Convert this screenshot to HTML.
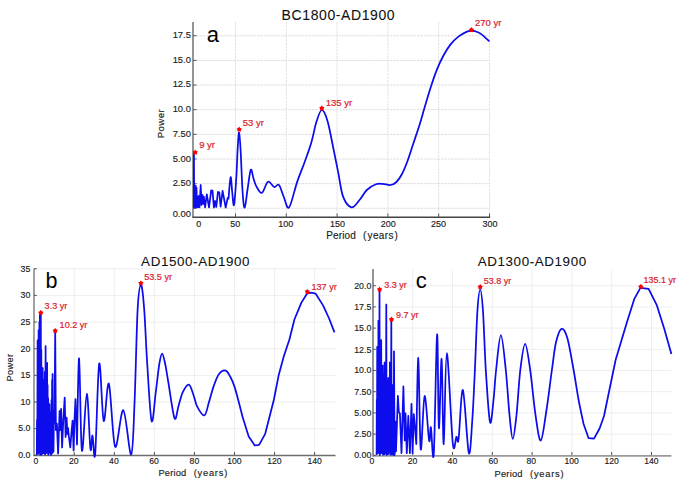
<!DOCTYPE html>
<html><head><meta charset="utf-8"><style>
html,body{margin:0;padding:0;background:#fff;width:685px;height:484px;overflow:hidden}
svg{display:block}
text{font-family:"Liberation Sans",sans-serif}
.t{fill:#1c1c1c;stroke:#1c1c1c;stroke-width:0.15px;letter-spacing:0.4px}
.k{fill:#1c1c1c;stroke:#1c1c1c;stroke-width:0.15px}
.r{fill:#d8202e;stroke:#d8202e;stroke-width:0.2px}
.ti{fill:#111;stroke:#111;stroke-width:0.08px;letter-spacing:0.6px}
.big{fill:#000}
</style></head><body>
<svg width="685" height="484" viewBox="0 0 685 484">
<rect width="685" height="484" fill="#fff"/>
<g id="pa">
<line x1="196" y1="208.3" x2="489.5" y2="208.3" stroke="#dedede" stroke-width="1" stroke-dasharray="2.6,0.8"/>
<line x1="196" y1="183.65" x2="489.5" y2="183.65" stroke="#dedede" stroke-width="1" stroke-dasharray="2.6,0.8"/>
<line x1="196" y1="159" x2="489.5" y2="159" stroke="#dedede" stroke-width="1" stroke-dasharray="2.6,0.8"/>
<line x1="196" y1="134.35" x2="489.5" y2="134.35" stroke="#dedede" stroke-width="1" stroke-dasharray="2.6,0.8"/>
<line x1="196" y1="109.7" x2="489.5" y2="109.7" stroke="#dedede" stroke-width="1" stroke-dasharray="2.6,0.8"/>
<line x1="196" y1="85.05" x2="489.5" y2="85.05" stroke="#dedede" stroke-width="1" stroke-dasharray="2.6,0.8"/>
<line x1="196" y1="60.4" x2="489.5" y2="60.4" stroke="#dedede" stroke-width="1" stroke-dasharray="2.6,0.8"/>
<line x1="196" y1="35.75" x2="489.5" y2="35.75" stroke="#dedede" stroke-width="1" stroke-dasharray="2.6,0.8"/>
<line x1="235.5" y1="22" x2="235.5" y2="216" stroke="#e2e2e2" stroke-width="1" stroke-dasharray="2.6,0.8"/>
<line x1="286.3" y1="22" x2="286.3" y2="216" stroke="#e2e2e2" stroke-width="1" stroke-dasharray="2.6,0.8"/>
<line x1="337.1" y1="22" x2="337.1" y2="216" stroke="#e2e2e2" stroke-width="1" stroke-dasharray="2.6,0.8"/>
<line x1="387.9" y1="22" x2="387.9" y2="216" stroke="#e2e2e2" stroke-width="1" stroke-dasharray="2.6,0.8"/>
<line x1="438.7" y1="22" x2="438.7" y2="216" stroke="#e2e2e2" stroke-width="1" stroke-dasharray="2.6,0.8"/>
<line x1="489.5" y1="22" x2="489.5" y2="216" stroke="#e2e2e2" stroke-width="1" stroke-dasharray="2.6,0.8"/>
<line x1="193" y1="22" x2="193" y2="217.5" stroke="#8a8a8a" stroke-width="1.8"/>
<line x1="192.5" y1="217.3" x2="490.2" y2="217.3" stroke="#444" stroke-width="1.5"/>
<line x1="193" y1="208.3" x2="196.5" y2="208.3" stroke="#555" stroke-width="1"/>
<line x1="193" y1="183.65" x2="196.5" y2="183.65" stroke="#555" stroke-width="1"/>
<line x1="193" y1="159" x2="196.5" y2="159" stroke="#555" stroke-width="1"/>
<line x1="193" y1="134.35" x2="196.5" y2="134.35" stroke="#555" stroke-width="1"/>
<line x1="193" y1="109.7" x2="196.5" y2="109.7" stroke="#555" stroke-width="1"/>
<line x1="193" y1="85.05" x2="196.5" y2="85.05" stroke="#555" stroke-width="1"/>
<line x1="193" y1="60.4" x2="196.5" y2="60.4" stroke="#555" stroke-width="1"/>
<line x1="193" y1="35.75" x2="196.5" y2="35.75" stroke="#555" stroke-width="1"/>
<line x1="235.5" y1="217" x2="235.5" y2="213.5" stroke="#555" stroke-width="1"/>
<line x1="286.3" y1="217" x2="286.3" y2="213.5" stroke="#555" stroke-width="1"/>
<line x1="337.1" y1="217" x2="337.1" y2="213.5" stroke="#555" stroke-width="1"/>
<line x1="387.9" y1="217" x2="387.9" y2="213.5" stroke="#555" stroke-width="1"/>
<line x1="438.7" y1="217" x2="438.7" y2="213.5" stroke="#555" stroke-width="1"/>
<line x1="489.5" y1="217" x2="489.5" y2="213.5" stroke="#555" stroke-width="1"/>
<text x="190.9" y="38.4" text-anchor="end" font-size="9.4" class="k">17.5</text>
<text x="190.9" y="62.9" text-anchor="end" font-size="9.4" class="k">15.0</text>
<text x="190.9" y="87.4" text-anchor="end" font-size="9.4" class="k">12.5</text>
<text x="190.9" y="112.4" text-anchor="end" font-size="9.4" class="k">10.0</text>
<text x="190.9" y="136.7" text-anchor="end" font-size="9.4" class="k">7.50</text>
<text x="190.9" y="161.5" text-anchor="end" font-size="9.4" class="k">5.00</text>
<text x="190.9" y="186.4" text-anchor="end" font-size="9.4" class="k">2.50</text>
<text x="190.9" y="217.1" text-anchor="end" font-size="9.4" class="k">0.00</text>
<text x="198.7" y="226.8" text-anchor="middle" font-size="9.0" class="k">0</text>
<text x="235.3" y="226.8" text-anchor="middle" font-size="9.0" class="k">50</text>
<text x="285.8" y="226.8" text-anchor="middle" font-size="9.0" class="k">100</text>
<text x="337.4" y="226.8" text-anchor="middle" font-size="9.0" class="k">150</text>
<text x="388.3" y="226.8" text-anchor="middle" font-size="9.0" class="k">200</text>
<text x="438.4" y="226.8" text-anchor="middle" font-size="9.0" class="k">250</text>
<text x="490.1" y="226.8" text-anchor="middle" font-size="9.0" class="k">300</text>
<text x="163.6" y="123.6" transform="rotate(-90 163.6 123.6)" text-anchor="middle" font-size="9.7" class="t">Power</text>
<text x="326.2" y="239.4" font-size="10" class="t" style="letter-spacing:0.15px">Period</text>
<text x="363.0" y="239.4" font-size="10" class="t">(</text>
<text x="367.5" y="239.4" font-size="10" class="t">years</text>
<text x="394.5" y="239.4" font-size="10" class="t">)</text>
<text x="281.6" y="19.8" font-size="14" class="ti">BC1800-AD1900</text>
<text x="206.7" y="41.6" font-size="22" class="big">a</text>
<path d="M193.9,207.5 L193.9,153.5 L194.3,207.5 L194.6,186 L195,207.3 L195.6,185.6 L196.1,207.3 L196.5,187.5 L197,207.3 L197.6,196.7 L198.1,207.3 L198.8,196 L199.5,207.3 L200.7,185 L201.5,205 L202.4,194.9 L203.2,204 L203.8,196.7 L205.1,207.3 L206.8,194.3 L209,207.3 L211.2,190.4 L212.5,190.6 L213.9,207.5 L215.1,201 L216.3,207 L217.9,192 L219.3,192.4 L220.6,206.6 L222.6,190.9 L225.7,207.5 L227.7,197.9 L228.5,198.7 L228.5,198.7 C228.85,195.1 229.98,178.22 230.6,177.1 C231.22,175.98 231.63,187.35 232.2,192 C232.77,196.65 233.32,207.33 234,205 C234.68,202.67 235.68,187.5 236.3,178 C236.92,168.5 237.23,155.6 237.7,148 C238.17,140.4 238.62,132.07 239.1,132.4 C239.58,132.73 240.02,140.07 240.6,150 C241.18,159.93 241.92,182.4 242.6,192 C243.28,201.6 243.87,208.1 244.7,207.6 C245.53,207.1 246.58,195.3 247.6,189 C248.62,182.7 249.8,171.47 250.8,169.8 C251.8,168.13 252.65,176.2 253.6,179 C254.55,181.8 255.12,184.28 256.5,186.6 C257.88,188.92 259.98,193.7 261.9,192.9 C263.82,192.1 265.95,182.78 268,181.8 C270.05,180.82 272.37,186.47 274.2,187 C276.03,187.53 277.4,183.33 279,185 C280.6,186.67 282.12,193.27 283.8,197 C285.48,200.73 286.88,209.88 289.1,207.4 C291.32,204.92 294.55,189.55 297.1,182.1 C299.65,174.65 302.05,169.22 304.4,162.7 C306.75,156.18 309.18,149.85 311.2,143 C313.22,136.15 314.73,127.1 316.5,121.6 C318.27,116.1 319.97,110.1 321.8,110 C323.63,109.9 325.6,114.75 327.5,121 C329.4,127.25 331.42,138.93 333.2,147.5 C334.98,156.07 336.55,164.22 338.2,172.4 C339.85,180.58 340.88,190.78 343.1,196.6 C345.32,202.42 348.77,206.73 351.5,207.3 C354.23,207.87 356.95,202.88 359.5,200 C362.05,197.12 364.07,192.62 366.8,190 C369.53,187.38 373.25,185.32 375.9,184.3 C378.55,183.28 380.23,183.78 382.7,183.9 C385.17,184.02 388.42,185.32 390.7,185 C392.98,184.68 394.52,183.83 396.4,182 C398.28,180.17 400.12,177.58 402,174 C403.88,170.42 405.78,165.67 407.7,160.5 C409.62,155.33 411.53,148.92 413.5,143 C415.47,137.08 417.65,130.9 419.5,125 C421.35,119.1 422.72,113.93 424.6,107.6 C426.48,101.27 428.73,93.37 430.8,87 C432.87,80.63 434.93,74.57 437,69.4 C439.07,64.23 440.97,60.13 443.2,56 C445.43,51.87 447.82,47.87 450.4,44.6 C452.98,41.33 455.93,38.57 458.7,36.4 C461.47,34.23 464.93,32.53 467,31.6 C469.07,30.67 469.77,30.87 471.1,30.8 C472.43,30.73 473.32,30.65 475,31.2 C476.68,31.75 478.8,32.4 481.2,34.1 C483.6,35.8 488.03,40.18 489.4,41.4" fill="none" stroke="#0c0cec" stroke-width="1.75" stroke-linejoin="round"/>
<path d="M195.2,149.6 L196.29,150.9 L197.86,151.53 L196.96,152.97 L196.85,154.67 L195.2,154.25 L193.55,154.67 L193.44,152.97 L192.54,151.53 L194.11,150.9 Z" fill="#ff0000"/>
<text x="199.2" y="148.4" font-size="9.5" class="r">9 yr</text>
<path d="M239.2,126.7 L240.29,128 L241.86,128.63 L240.96,130.07 L240.85,131.77 L239.2,131.35 L237.55,131.77 L237.44,130.07 L236.54,128.63 L238.11,128 Z" fill="#ff0000"/>
<text x="242.7" y="126.3" font-size="9.5" class="r">53 yr</text>
<path d="M321.8,105.5 L322.89,106.8 L324.46,107.43 L323.56,108.87 L323.45,110.57 L321.8,110.15 L320.15,110.57 L320.04,108.87 L319.14,107.43 L320.71,106.8 Z" fill="#ff0000"/>
<text x="325.8" y="106" font-size="9.5" class="r">135 yr</text>
<path d="M471.5,27.1 L472.59,28.4 L474.16,29.03 L473.26,30.47 L473.15,32.17 L471.5,31.75 L469.85,32.17 L469.74,30.47 L468.84,29.03 L470.41,28.4 Z" fill="#ff0000"/>
<text x="475" y="26.2" font-size="9.5" class="r">270 yr</text>
</g>
<g id="pb">
<line x1="35" y1="428.65" x2="335.5" y2="428.65" stroke="#ececec" stroke-width="0.9"/>
<line x1="35" y1="402" x2="335.5" y2="402" stroke="#ececec" stroke-width="0.9"/>
<line x1="35" y1="375.35" x2="335.5" y2="375.35" stroke="#ececec" stroke-width="0.9"/>
<line x1="35" y1="348.7" x2="335.5" y2="348.7" stroke="#ececec" stroke-width="0.9"/>
<line x1="35" y1="322.05" x2="335.5" y2="322.05" stroke="#ececec" stroke-width="0.9"/>
<line x1="35" y1="295.4" x2="335.5" y2="295.4" stroke="#ececec" stroke-width="0.9"/>
<line x1="35" y1="268.75" x2="335.5" y2="268.75" stroke="#ececec" stroke-width="0.9"/>
<line x1="74.26" y1="268.8" x2="74.26" y2="455" stroke="#ececec" stroke-width="0.9"/>
<line x1="114.32" y1="268.8" x2="114.32" y2="455" stroke="#ececec" stroke-width="0.9"/>
<line x1="154.38" y1="268.8" x2="154.38" y2="455" stroke="#ececec" stroke-width="0.9"/>
<line x1="194.44" y1="268.8" x2="194.44" y2="455" stroke="#ececec" stroke-width="0.9"/>
<line x1="234.5" y1="268.8" x2="234.5" y2="455" stroke="#ececec" stroke-width="0.9"/>
<line x1="274.56" y1="268.8" x2="274.56" y2="455" stroke="#ececec" stroke-width="0.9"/>
<line x1="314.62" y1="268.8" x2="314.62" y2="455" stroke="#ececec" stroke-width="0.9"/>
<line x1="34" y1="268.6" x2="34" y2="456" stroke="#8a8a8a" stroke-width="1.6"/>
<line x1="33.5" y1="455.5" x2="335.5" y2="455.5" stroke="#6e6e6e" stroke-width="1.4"/>
<line x1="34" y1="455.3" x2="36.8" y2="455.3" stroke="#555" stroke-width="1"/>
<line x1="34" y1="428.65" x2="36.8" y2="428.65" stroke="#555" stroke-width="1"/>
<line x1="34" y1="402" x2="36.8" y2="402" stroke="#555" stroke-width="1"/>
<line x1="34" y1="375.35" x2="36.8" y2="375.35" stroke="#555" stroke-width="1"/>
<line x1="34" y1="348.7" x2="36.8" y2="348.7" stroke="#555" stroke-width="1"/>
<line x1="34" y1="322.05" x2="36.8" y2="322.05" stroke="#555" stroke-width="1"/>
<line x1="34" y1="295.4" x2="36.8" y2="295.4" stroke="#555" stroke-width="1"/>
<line x1="34" y1="268.75" x2="36.8" y2="268.75" stroke="#555" stroke-width="1"/>
<line x1="74.26" y1="455" x2="74.26" y2="452" stroke="#555" stroke-width="1"/>
<line x1="114.32" y1="455" x2="114.32" y2="452" stroke="#555" stroke-width="1"/>
<line x1="154.38" y1="455" x2="154.38" y2="452" stroke="#555" stroke-width="1"/>
<line x1="194.44" y1="455" x2="194.44" y2="452" stroke="#555" stroke-width="1"/>
<line x1="234.5" y1="455" x2="234.5" y2="452" stroke="#555" stroke-width="1"/>
<line x1="274.56" y1="455" x2="274.56" y2="452" stroke="#555" stroke-width="1"/>
<line x1="314.62" y1="455" x2="314.62" y2="452" stroke="#555" stroke-width="1"/>
<text x="30.4" y="271.7" text-anchor="end" font-size="8.8" class="k">35</text>
<text x="30.4" y="298.3" text-anchor="end" font-size="8.8" class="k">30</text>
<text x="30.4" y="324.9" text-anchor="end" font-size="8.8" class="k">25</text>
<text x="30.4" y="351.9" text-anchor="end" font-size="8.8" class="k">20</text>
<text x="30.4" y="378.3" text-anchor="end" font-size="8.8" class="k">15</text>
<text x="30.4" y="404.5" text-anchor="end" font-size="8.8" class="k">10</text>
<text x="30.4" y="431.3" text-anchor="end" font-size="8.8" class="k">5.0</text>
<text x="30.4" y="458.2" text-anchor="end" font-size="8.8" class="k">0.0</text>
<text x="35.8" y="463.6" text-anchor="middle" font-size="8.6" class="k">0</text>
<text x="73.8" y="463.6" text-anchor="middle" font-size="8.6" class="k">20</text>
<text x="113.9" y="463.6" text-anchor="middle" font-size="8.6" class="k">40</text>
<text x="154" y="463.6" text-anchor="middle" font-size="8.6" class="k">60</text>
<text x="194.4" y="463.6" text-anchor="middle" font-size="8.6" class="k">80</text>
<text x="234.4" y="463.6" text-anchor="middle" font-size="8.6" class="k">100</text>
<text x="274.4" y="463.6" text-anchor="middle" font-size="8.6" class="k">120</text>
<text x="314.6" y="463.6" text-anchor="middle" font-size="8.6" class="k">140</text>
<text x="13.2" y="367.5" transform="rotate(-90 13.2 367.5)" text-anchor="middle" font-size="9.2" class="t">Power</text>
<text x="158.4" y="475.9" font-size="9.3" class="t" style="letter-spacing:0.2px">Period</text>
<text x="193.8" y="475.9" font-size="9.3" class="t">(</text>
<text x="197.6" y="475.9" font-size="9.3" class="t" style="letter-spacing:0.75px">years</text>
<text x="224.3" y="475.9" font-size="9.3" class="t">)</text>
<text x="141.1" y="265.8" font-size="13.4" class="ti">AD1500-AD1900</text>
<text x="45.6" y="288.3" font-size="21.5" class="big">b</text>
<path d="M36.8,455 L37,420 L37.3,454.05 L37.6,340.4 L37.85,452.82 L38.1,360 L38.35,453.52 L38.6,330 L39,452.58 L39.4,322 L39.65,452.5 L39.9,314 L40.15,454.74 L40.4,318 L40.6,454.95 L40.8,313.5 L41.05,451.65 L41.3,350 L41.55,453.96 L41.8,372 L42.05,454.06 L42.3,390 L42.5,451.02 L42.7,368 L42.95,453.12 L43.2,395 L43.45,451.65 L43.7,380 L44,453.09 L44.3,386 L44.55,452.44 L44.8,372 L45.2,454.4 L45.6,346.2 L45.85,452.46 L46.1,375 L46.35,451.53 L46.6,390 L46.85,452.91 L47.1,362.8 L47.35,452.03 L47.6,385 L47.85,452.31 L48.1,398 L48.35,454.74 L48.6,410 L49,451.97 L49.4,404.2 L49.75,452.64 L50.1,418 L50.45,453.79 L50.8,412 L51.15,454.88 L51.5,400 L51.8,451.54 L52.1,380 L52.35,453.11 L52.6,374 L52.9,452.12 L53.2,410 L53.5,451.48 L53.8,425 L54.5,420 L55.2,331.5 L55.9,430 L56.9,423.7 L58.1,453.5 L59.6,411 L60.3,430 L61.1,408.8 L62.1,447.5 L63.3,420 L64.7,397.6 L65.6,437 L66.6,417.7 L67.4,434 L68.1,428 L68.8,436 L70.3,447.5 L71.5,432 L72.6,420.7 L73.6,450.5 L74.5,420 L75.5,399.1 L77,444.5 L77,444.5 C77.35,430.13 78.28,357.3 79.1,358.3 C79.92,359.3 80.62,444.57 81.9,450.5 C83.18,456.43 85.38,394.15 86.8,393.9 C88.22,393.65 89.45,442.07 90.4,449 C91.35,455.93 91.7,434.67 92.5,435.5 C93.3,436.33 94.08,465.97 95.2,454 C96.32,442.03 97.78,369.22 99.2,363.7 C100.62,358.18 102.08,417.55 103.7,420.9 C105.32,424.25 107,379.5 108.9,383.8 C110.8,388.1 112.7,442.3 115.1,446.7 C117.5,451.1 120.62,408.88 123.3,410.2 C125.98,411.52 129.32,456.08 131.2,454.6 C133.08,453.12 133.53,425.4 134.6,401.3 C135.67,377.2 136.55,329.38 137.6,310 C138.65,290.62 139.82,285.33 140.9,285 C141.98,284.67 143.03,294.67 144.1,308 C145.17,321.33 146.05,346.17 147.3,365 C148.55,383.83 150.18,416.5 151.6,421 C153.02,425.5 154.52,401.5 155.8,392 C157.08,382.5 158.25,370.42 159.3,364 C160.35,357.58 161.12,353.5 162.1,353.5 C163.08,353.5 164.17,359.25 165.2,364 C166.23,368.75 166.75,372.98 168.3,382 C169.85,391.02 172.8,414.1 174.5,418.1 C176.2,422.1 177.13,410.3 178.5,406 C179.87,401.7 180.97,395.87 182.7,392.3 C184.43,388.73 187.1,384.15 188.9,384.6 C190.7,385.05 192.12,391.32 193.5,395 C194.88,398.68 195.38,403.3 197.2,406.7 C199.02,410.1 202.43,416.18 204.4,415.4 C206.37,414.62 207.45,406.88 209,402 C210.55,397.12 212.03,390.77 213.7,386.1 C215.37,381.43 217,376.58 219,374 C221,371.42 223.8,370.1 225.7,370.6 C227.6,371.1 228.97,374.42 230.4,377 C231.83,379.58 232.95,382.1 234.3,386.1 C235.65,390.1 237.12,395.83 238.5,401 C239.88,406.17 241.92,414.42 242.6,417.1 L248.7,436.4 L254.8,445.5 L259.1,444.8 L265.2,433.8 L273.8,400 L278.8,374.7 L283.9,356 L289.5,339.3 L294.4,319.5 L301.4,302.6 L307.3,293.3 L311.3,292.7 L315.7,293.7 L323.2,305.6 L329.1,318.5 L334.5,332.4" fill="none" stroke="#0c0cec" stroke-width="1.75" stroke-linejoin="round"/>
<path d="M40.8,310 L41.89,311.3 L43.46,311.93 L42.56,313.37 L42.45,315.07 L40.8,314.65 L39.15,315.07 L39.04,313.37 L38.14,311.93 L39.71,311.3 Z" fill="#ff0000"/>
<text x="44.6" y="309.4" font-size="9.1" class="r">3.3 yr</text>
<path d="M55.2,328 L56.29,329.3 L57.86,329.93 L56.96,331.37 L56.85,333.07 L55.2,332.65 L53.55,333.07 L53.44,331.37 L52.54,329.93 L54.11,329.3 Z" fill="#ff0000"/>
<text x="59.6" y="327.9" font-size="9.1" class="r">10.2 yr</text>
<path d="M140.9,280.4 L141.99,281.7 L143.56,282.33 L142.66,283.77 L142.55,285.47 L140.9,285.05 L139.25,285.47 L139.14,283.77 L138.24,282.33 L139.81,281.7 Z" fill="#ff0000"/>
<text x="144.2" y="279.6" font-size="9.1" class="r">53.5 yr</text>
<path d="M307.3,288.9 L308.39,290.2 L309.96,290.83 L309.06,292.27 L308.95,293.97 L307.3,293.55 L305.65,293.97 L305.54,292.27 L304.64,290.83 L306.21,290.2 Z" fill="#ff0000"/>
<text x="311.5" y="289.7" font-size="9.1" class="r">137 yr</text>
</g>
<g id="pc">
<line x1="374" y1="434.1" x2="671.4" y2="434.1" stroke="#ececec" stroke-width="0.9"/>
<line x1="374" y1="412.9" x2="671.4" y2="412.9" stroke="#ececec" stroke-width="0.9"/>
<line x1="374" y1="391.7" x2="671.4" y2="391.7" stroke="#ececec" stroke-width="0.9"/>
<line x1="374" y1="370.5" x2="671.4" y2="370.5" stroke="#ececec" stroke-width="0.9"/>
<line x1="374" y1="349.3" x2="671.4" y2="349.3" stroke="#ececec" stroke-width="0.9"/>
<line x1="374" y1="328.1" x2="671.4" y2="328.1" stroke="#ececec" stroke-width="0.9"/>
<line x1="374" y1="306.9" x2="671.4" y2="306.9" stroke="#ececec" stroke-width="0.9"/>
<line x1="374" y1="285.7" x2="671.4" y2="285.7" stroke="#ececec" stroke-width="0.9"/>
<line x1="412.7" y1="269.3" x2="412.7" y2="455" stroke="#ececec" stroke-width="0.9"/>
<line x1="452.5" y1="269.3" x2="452.5" y2="455" stroke="#ececec" stroke-width="0.9"/>
<line x1="492.3" y1="269.3" x2="492.3" y2="455" stroke="#ececec" stroke-width="0.9"/>
<line x1="532.1" y1="269.3" x2="532.1" y2="455" stroke="#ececec" stroke-width="0.9"/>
<line x1="571.9" y1="269.3" x2="571.9" y2="455" stroke="#ececec" stroke-width="0.9"/>
<line x1="611.7" y1="269.3" x2="611.7" y2="455" stroke="#ececec" stroke-width="0.9"/>
<line x1="651.5" y1="269.3" x2="651.5" y2="455" stroke="#ececec" stroke-width="0.9"/>
<line x1="373" y1="268.9" x2="373" y2="456.5" stroke="#7a7a7a" stroke-width="1.6"/>
<line x1="372.5" y1="455.8" x2="671.4" y2="455.8" stroke="#999" stroke-width="1.8"/>
<line x1="373" y1="455.3" x2="375.8" y2="455.3" stroke="#555" stroke-width="1"/>
<line x1="373" y1="434.1" x2="375.8" y2="434.1" stroke="#555" stroke-width="1"/>
<line x1="373" y1="412.9" x2="375.8" y2="412.9" stroke="#555" stroke-width="1"/>
<line x1="373" y1="391.7" x2="375.8" y2="391.7" stroke="#555" stroke-width="1"/>
<line x1="373" y1="370.5" x2="375.8" y2="370.5" stroke="#555" stroke-width="1"/>
<line x1="373" y1="349.3" x2="375.8" y2="349.3" stroke="#555" stroke-width="1"/>
<line x1="373" y1="328.1" x2="375.8" y2="328.1" stroke="#555" stroke-width="1"/>
<line x1="373" y1="306.9" x2="375.8" y2="306.9" stroke="#555" stroke-width="1"/>
<line x1="373" y1="285.7" x2="375.8" y2="285.7" stroke="#555" stroke-width="1"/>
<line x1="412.7" y1="455" x2="412.7" y2="452" stroke="#555" stroke-width="1"/>
<line x1="452.5" y1="455" x2="452.5" y2="452" stroke="#555" stroke-width="1"/>
<line x1="492.3" y1="455" x2="492.3" y2="452" stroke="#555" stroke-width="1"/>
<line x1="532.1" y1="455" x2="532.1" y2="452" stroke="#555" stroke-width="1"/>
<line x1="571.9" y1="455" x2="571.9" y2="452" stroke="#555" stroke-width="1"/>
<line x1="611.7" y1="455" x2="611.7" y2="452" stroke="#555" stroke-width="1"/>
<line x1="651.5" y1="455" x2="651.5" y2="452" stroke="#555" stroke-width="1"/>
<text x="371.3" y="288.7" text-anchor="end" font-size="8.8" class="k">20.0</text>
<text x="371.3" y="309.9" text-anchor="end" font-size="8.8" class="k">17.5</text>
<text x="371.3" y="331.1" text-anchor="end" font-size="8.8" class="k">15.0</text>
<text x="371.3" y="352.5" text-anchor="end" font-size="8.8" class="k">12.5</text>
<text x="371.3" y="373.4" text-anchor="end" font-size="8.8" class="k">10.0</text>
<text x="371.3" y="394.5" text-anchor="end" font-size="8.8" class="k">7.50</text>
<text x="371.3" y="416.3" text-anchor="end" font-size="8.8" class="k">5.00</text>
<text x="371.3" y="437.4" text-anchor="end" font-size="8.8" class="k">2.50</text>
<text x="371.3" y="457.9" text-anchor="end" font-size="8.8" class="k">0.00</text>
<text x="372" y="464.2" text-anchor="middle" font-size="8.6" class="k">0</text>
<text x="412.6" y="464.2" text-anchor="middle" font-size="8.6" class="k">20</text>
<text x="452.4" y="464.2" text-anchor="middle" font-size="8.6" class="k">40</text>
<text x="493.2" y="464.2" text-anchor="middle" font-size="8.6" class="k">60</text>
<text x="531.2" y="464.2" text-anchor="middle" font-size="8.6" class="k">80</text>
<text x="571.6" y="464.2" text-anchor="middle" font-size="8.6" class="k">100</text>
<text x="611.6" y="464.2" text-anchor="middle" font-size="8.6" class="k">120</text>
<text x="651.4" y="464.2" text-anchor="middle" font-size="8.6" class="k">140</text>
<text x="494.6" y="476.8" font-size="9.3" class="t" style="letter-spacing:0.2px">Period</text>
<text x="530.0" y="476.8" font-size="9.3" class="t">(</text>
<text x="533.9" y="476.8" font-size="9.3" class="t" style="letter-spacing:0.75px">years</text>
<text x="560.5" y="476.8" font-size="9.3" class="t">)</text>
<text x="477.7" y="266" font-size="13.4" class="ti">AD1300-AD1900</text>
<text x="415.8" y="288.1" font-size="22" class="big">c</text>
<path d="M376.6,455 L376.8,400 L377,453.13 L377.2,346.9 L377.4,452.77 L377.6,380 L377.8,452.61 L378,360 L378.2,452.17 L378.4,320.8 L378.65,452.78 L378.9,350 L379.2,452.23 L379.5,290 L379.75,454.91 L380,340 L380.3,453.6 L380.6,360 L380.9,452.17 L381.2,340.2 L381.5,453.05 L381.8,372 L382.25,452.3 L382.7,365.5 L383.05,454.66 L383.4,390 L383.7,453.59 L384,375 L384.3,454.26 L384.6,362.5 L384.95,453.37 L385.3,385 L385.8,453.28 L386.3,304.5 L386.6,454.96 L386.9,380 L387.25,454.35 L387.6,400 L387.95,454.16 L388.3,378 L388.65,452.25 L389,395 L389.45,452.7 L389.9,362.5 L390.2,454.52 L390.5,400 L390.9,452.61 L391.3,320 L391.65,454.58 L392,395 L392.3,453.15 L392.6,385 L392.95,454.62 L393.3,410 L393.65,454.99 L394,351.3 L394.6,455 L395.2,421.3 L396,451.5 L397.9,395.9 L398.8,411.8 L399.9,413.4 L401.5,453.1 L403.4,386.4 L404.7,440.4 L405.5,413.4 L406.8,453.1 L408.3,415.8 L409.9,453.1 L411.5,403.8 L412.6,453.1 L413.8,414.2 L415,427.7 L416.3,444.1 C416.63,429.73 417.57,357.05 418.3,357.9 C419.03,358.75 419.65,442.85 420.7,449.2 C421.75,455.55 423.2,397.45 424.6,396 C426,394.55 428.05,435.28 429.1,440.5 C430.15,445.72 430.12,425.12 430.9,427.3 C431.68,429.48 432.77,469.07 433.8,453.6 C434.83,438.13 436.25,338.75 437.1,334.5 C437.95,330.25 438.15,424.03 438.9,428.1 C439.65,432.17 440.8,356.23 441.6,358.9 C442.4,361.57 442.83,445.07 443.7,444.1 C444.57,443.13 445.28,353.22 446.8,353.1 C448.32,352.98 451.2,429.45 452.8,443.4 C454.4,457.35 455.43,437.53 456.4,436.8 C457.37,436.07 457.52,446.8 458.6,439 C459.68,431.2 461.2,387.68 462.9,390 C464.6,392.32 467.23,447.9 468.8,452.9 C470.37,457.9 471.28,433.82 472.3,420 C473.32,406.18 474.05,388.12 474.9,370 C475.75,351.88 476.52,324.7 477.4,311.3 C478.28,297.9 479.27,289.6 480.2,289.6 C481.13,289.6 482.07,297.9 483,311.3 C483.93,324.7 484.63,351.55 485.8,370 C486.97,388.45 488.72,417 490,422 C491.28,427 492.48,408.67 493.5,400 C494.52,391.33 494.87,380.82 496.1,370 C497.33,359.18 499.28,335.1 500.9,335.1 C502.52,335.1 504.37,356.68 505.8,370 C507.23,383.32 508.33,403.52 509.5,415 C510.67,426.48 511.63,438.9 512.8,438.9 C513.97,438.9 515.25,426.48 516.5,415 C517.75,403.52 518.87,381.85 520.3,370 C521.73,358.15 523.45,343.9 525.1,343.9 C526.75,343.9 528.47,358.15 530.2,370 C531.93,381.85 533.73,403.25 535.5,415 C537.27,426.75 538.97,441.33 540.8,440.5 C542.63,439.67 544.65,421.75 546.5,410 C548.35,398.25 550.32,381.28 551.9,370 C553.48,358.72 554.38,349.15 556,342.3 C557.62,335.45 559.7,329.58 561.6,328.9 C563.5,328.22 565.4,331.35 567.4,338.2 C569.4,345.05 571.73,359.7 573.6,370 C575.47,380.3 576.93,391 578.6,400 C580.27,409 582.77,420 583.6,424 L588.6,438.2 L594,438.7 L599.6,428.5 L604,416 L615.6,360 L627,322 L634.2,299.2 L640.4,287.9 L648.6,288.9 L656.9,305.4 L664.1,328.2 L671.4,354" fill="none" stroke="#0c0cec" stroke-width="1.75" stroke-linejoin="round"/>
<path d="M379.6,286.7 L380.69,288 L382.26,288.63 L381.36,290.07 L381.25,291.77 L379.6,291.35 L377.95,291.77 L377.84,290.07 L376.94,288.63 L378.51,288 Z" fill="#ff0000"/>
<text x="384.2" y="288.3" font-size="9.0" class="r">3.3 yr</text>
<path d="M391.5,316.6 L392.59,317.9 L394.16,318.53 L393.26,319.97 L393.15,321.67 L391.5,321.25 L389.85,321.67 L389.74,319.97 L388.84,318.53 L390.41,317.9 Z" fill="#ff0000"/>
<text x="396" y="318.1" font-size="9.0" class="r">9.7 yr</text>
<path d="M480.2,284.1 L481.29,285.4 L482.86,286.03 L481.96,287.47 L481.85,289.17 L480.2,288.75 L478.55,289.17 L478.44,287.47 L477.54,286.03 L479.11,285.4 Z" fill="#ff0000"/>
<text x="483.8" y="284.3" font-size="9.0" class="r">53.8 yr</text>
<path d="M640.8,284 L641.89,285.3 L643.46,285.93 L642.56,287.37 L642.45,289.07 L640.8,288.65 L639.15,289.07 L639.04,287.37 L638.14,285.93 L639.71,285.3 Z" fill="#ff0000"/>
<text x="643.6" y="283.1" font-size="9.0" class="r">135.1 yr</text>
</g>
</svg>
</body></html>
